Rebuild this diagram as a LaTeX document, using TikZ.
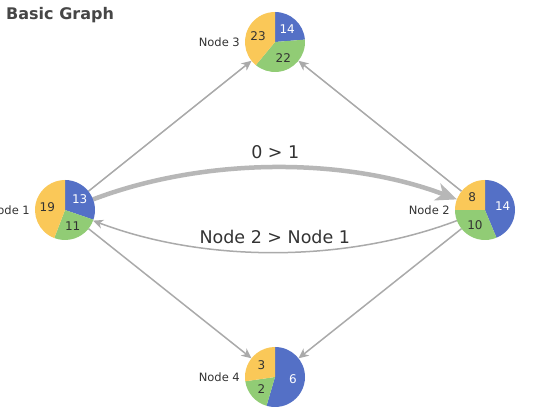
\documentclass[tikz,border=0pt]{standalone}
\usepackage{fontspec}
\setmainfont{DejaVu Sans}
\usetikzlibrary{arrows.meta}
\definecolor{cblue}{HTML}{5470C6}
\definecolor{cgreen}{HTML}{91CC75}
\definecolor{cyellow}{HTML}{FAC858}
\definecolor{cedge}{HTML}{AAAAAA}
\definecolor{ctext}{HTML}{333333}
\definecolor{ctitle}{HTML}{464646}
\tikzset{
  pienode/.style={circle,minimum size=60pt,inner sep=0pt,outer sep=0pt},
  pienum/.style={inner sep=0pt,font=\fontsize{12}{14}\selectfont},
  nodelabel/.style={inner sep=0pt,anchor=east,text=ctext,font=\fontsize{11.5}{13}\selectfont},
  edgelabel/.style={inner sep=0pt,text=ctext,font=\fontsize{17.5}{20}\selectfont},
  edge/.style={draw=cedge,line width=1.5pt,-{Stealth[length=10pt,width=9pt,inset=3pt]}},
  thickedge/.style={draw=cedge!85!white,line width=4.5pt,-{Stealth[length=21pt,width=18pt,inset=6pt]}},
}
\newcommand\mypie[4]{%
  \pgfmathsetmacro\pieT{#2+#3+#4}%
  \pgfmathsetmacro\pieA{90-360*#2/\pieT}%
  \pgfmathsetmacro\pieB{\pieA-360*#3/\pieT}%
  \pgfmathsetmacro\pieMa{(90+\pieA)/2}%
  \pgfmathsetmacro\pieMb{(\pieA+\pieB)/2}%
  \pgfmathsetmacro\pieMc{(\pieB-270)/2}%
  \fill[cblue] (#1.center) -- ++(90:30) arc[start angle=90,end angle=\pieA,radius=30] -- cycle;
  \fill[cgreen] (#1.center) -- ++(\pieA:30) arc[start angle=\pieA,end angle=\pieB,radius=30] -- cycle;
  \fill[cyellow] (#1.center) -- ++(\pieB:30) arc[start angle=\pieB,end angle=-270,radius=30] -- cycle;
  \node[pienum,text=white] at ([shift={(\pieMa:18)}]#1.center) {#2};
  \node[pienum,text=ctext] at ([shift={(\pieMb:18)}]#1.center) {#3};
  \node[pienum,text=ctext] at ([shift={(\pieMc:18)}]#1.center) {#4};
}
\begin{document}
\begin{tikzpicture}[x=1pt,y=1pt]
\useasboundingbox (0,0) rectangle (550,420);
\fill[white] (0,0) rectangle (550,420);
% title
\node[anchor=base west,inner sep=0pt,text=ctitle,font=\fontsize{16}{18}\selectfont\bfseries] (title) at (6,400.7) {Basic Graph};
% nodes
\node[pienode] (n1) at (65,210) {};
\node[pienode] (n2) at (485,210) {};
\node[pienode] (n3) at (275,378) {};
\node[pienode] (n4) at (275,43) {};
% edges
\draw[edge] (n1) -- (n3);
\draw[edge] (n2) -- (n3);
\draw[edge] (n1) -- (n4);
\draw[edge] (n2) -- (n4);
\draw[thickedge] (n1) .. controls (205,263) and (345,263) .. (n2);
\draw[edge] (n2) .. controls (345,157) and (205,157) .. (n1);
% edge labels
\node[edgelabel] (l1) at (275.3,267.7) {0 > 1};
\node[edgelabel] (l2) at (274.8,183) {Node 2 > Node 1};
% pies
\mypie{n1}{13}{11}{19}
\mypie{n2}{14}{10}{8}
\mypie{n3}{14}{22}{23}
\mypie{n4}{6}{2}{3}
% node labels
\node[nodelabel] (t1) at ([xshift=-35pt]n1.center) {Node 1};
\node[nodelabel] (t2) at ([xshift=-35pt]n2.center) {Node 2};
\node[nodelabel] (t3) at ([xshift=-35pt]n3.center) {Node 3};
\node[nodelabel] (t4) at ([xshift=-35pt]n4.center) {Node 4};
\end{tikzpicture}
\end{document}
